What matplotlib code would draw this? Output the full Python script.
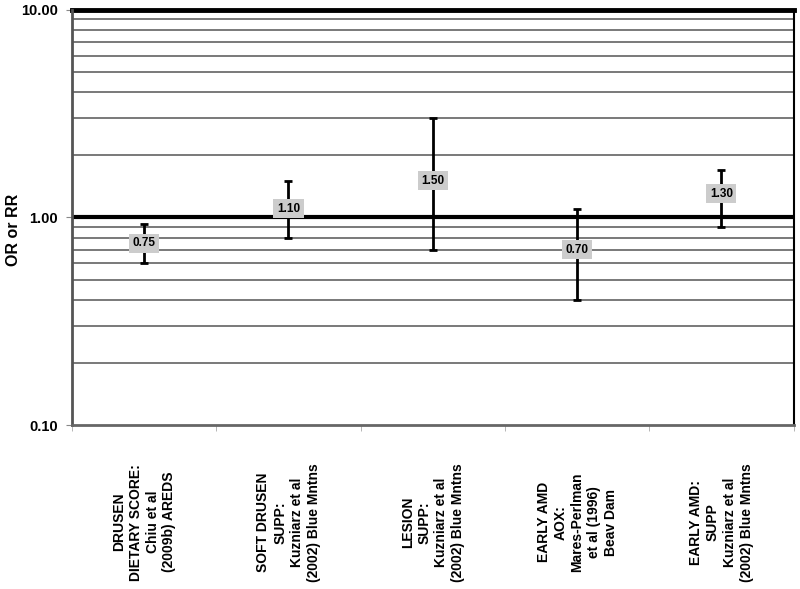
import numpy as np
import matplotlib.pyplot as plt
from matplotlib.ticker import FixedLocator, NullFormatter

plt.rcParams['font.family'] = ['Liberation Sans', 'DejaVu Sans']

categories = ["DRUSEN\nDIETARY SCORE:\nChiu et al\n(2009b) AREDS",
              "SOFT DRUSEN\nSUPP:\nKuzniarz et al\n(2002) Blue Mntns",
              "LESION\nSUPP:\nKuzniarz et al\n(2002) Blue Mntns",
              "EARLY AMD\nAOX:\nMares-Perlman\net al (1996)\nBeav Dam",
              "EARLY AMD:\nSUPP\nKuzniarz et al\n(2002) Blue Mntns"]
estimate = [0.75, 1.10, 1.50, 0.70, 1.30]
lower = [0.60, 0.80, 0.70, 0.40, 0.90]
upper = [0.93, 1.50, 3.00, 1.10, 1.70]

fig = plt.figure(figsize=(8, 5.89), dpi=100)
ax = fig.add_axes([0.09, 0.2784, 0.902, 0.705])

x = np.arange(len(estimate))
est = np.array(estimate)
yerr = [est - np.array(lower), np.array(upper) - est]

ax.set_yscale('log')
ax.set_ylim(0.1, 10)
ax.set_xlim(-0.5, len(estimate) - 0.5)

# grid lines
minor = [m * d for d in (0.1, 1) for m in range(2, 10)]
for v in minor:
    ax.axhline(v, color='#555555', lw=1.1, zorder=1)
ax.axhline(1.0, color='black', lw=3, zorder=2)
ax.axhline(10.0, color='black', lw=3.5, zorder=2, clip_on=False)

ax.errorbar(x, est, yerr=yerr, fmt='none', ecolor='black', elinewidth=2,
            capsize=3, capthick=2, zorder=3)
for xi, v in zip(x, estimate):
    ax.text(xi, v, f"{v:.2f}", ha='center', va='center', fontsize=8.5,
            fontweight='bold', zorder=4,
            bbox=dict(boxstyle='square,pad=0.3', fc='#cccccc', ec='none'))

ax.yaxis.set_major_locator(FixedLocator([0.1, 1, 10]))
ax.set_yticklabels(["0.10", "1.00", "10.00"], fontsize=10.5, fontweight='bold')
ax.yaxis.set_minor_formatter(NullFormatter())
ax.tick_params(axis='y', which='minor', length=0)
ax.tick_params(axis='y', which='major', length=4, color='#888888', pad=6)
ax.set_ylabel("OR or RR", fontsize=11.5, fontweight='bold')
ax.yaxis.set_label_coords(-0.071, 0.47)

ax.set_xticks(x)
ax.set_xticklabels(categories, rotation=90, fontsize=10, fontweight='bold',
                   linespacing=1.25, ha='center', va='center')
ax.tick_params(axis='x', which='major', length=0, pad=70)
ax.set_xticks(np.arange(len(estimate) + 1) - 0.5, minor=True)
ax.tick_params(axis='x', which='minor', length=4, color='#aaaaaa')

ax.spines['left'].set_color('#555555')
ax.spines['left'].set_linewidth(2)
ax.spines['bottom'].set_color('#666666')
ax.spines['bottom'].set_linewidth(2)
ax.spines['right'].set_color('black')
ax.spines['right'].set_linewidth(1.5)
ax.spines['top'].set_visible(False)

fig.savefig("out.png", dpi=100)
